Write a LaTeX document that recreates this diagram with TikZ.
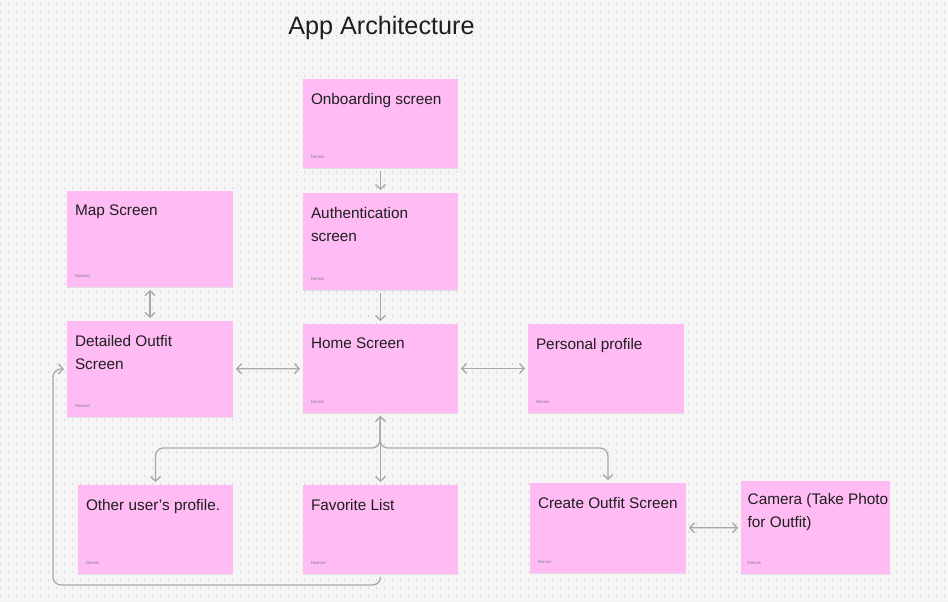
\documentclass[tikz,border=0pt]{standalone}
\usepackage{fontspec}
\setmainfont{Liberation Sans}
\usetikzlibrary{arrows.meta,positioning,fit,shadows}
\definecolor{notepink}{HTML}{FFBBF3}
\definecolor{linkgray}{HTML}{A9A9A9}
\definecolor{canvas}{HTML}{F5F5F5}
\definecolor{dotgray}{HTML}{D6D6D6}
\definecolor{inkdark}{HTML}{1E1E1E}
\tikzstyle{note} = [fill=notepink, rectangle, inner sep=0pt,
drop shadow={shadow xshift=0pt, shadow yshift=-1pt, opacity=0.18}]
\tikzstyle{heading} = [anchor=north west, inner sep=0pt, align=left, text=inkdark,
font=\fontsize{11.5}{17.25}\selectfont]
\tikzstyle{author} = [anchor=base west, inner sep=0pt, text=gray,
font=\fontsize{3.2}{4}\selectfont]
\tikzstyle{link} = [draw=linkgray, line width=1pt, rounded corners=6pt,
shorten >=2pt, shorten <=2pt]

\begin{document}
\begin{tikzpicture}[x=0.75pt, y=-0.75pt, >={Straight Barb[length=3.5pt, width=7.5pt]}]
	% canvas and dot grid
	\fill[canvas] (0,0) rectangle (948,602);
	\useasboundingbox (0,0) rectangle (948,602);
	\foreach \y in {4,12,...,600}
		\draw[dotgray, line width=1pt, dash pattern=on 1pt off 5pt] (0,\y) -- (948,\y);
	
	\node[anchor=base west, inner sep=0pt, text=inkdark, font=\fontsize{18.9}{22}\selectfont] (Title) at (288,35) {App Architecture};
	
	% sticky notes
	\node [note, fit={(303,79) (458,168)}] (Onboard) {};
	\node [note, fit={(303,193) (458,290)}] (Auth) {};
	\node [note, fit={(67,191) (233,287)}] (Map) {};
	\node [note, fit={(67,321) (233,417)}] (Detailed) {};
	\node [note, fit={(303,324) (458,413)}] (Home) {};
	\node [note, fit={(528,324) (684,413)}] (Profile) {};
	\node [note, fit={(78,485) (233,574)}] (Other) {};
	\node [note, fit={(303,485) (458,574)}] (Favorite) {};
	\node [note, fit={(530,483) (686,573)}] (Create) {};
	\node [note, fit={(741,481) (890,574)}] (Camera) {};
	
	% titles
	\node [heading] at ([xshift=6pt, yshift=-10.5pt]Onboard.north west) {Onboarding screen};
	\node [heading] at ([xshift=6pt, yshift=-10.5pt]Auth.north west) {Authentication\\screen};
	\node [heading] at ([xshift=6pt, yshift=-10.5pt]Map.north west) {Map Screen};
	\node [heading] at ([xshift=6pt, yshift=-10.5pt]Detailed.north west) {Detailed Outfit\\Screen};
	\node [heading] at ([xshift=6pt, yshift=-10.5pt]Home.north west) {Home Screen};
	\node [heading] at ([xshift=6pt, yshift=-10.5pt]Profile.north west) {Personal profile};
	\node [heading] at ([xshift=6pt, yshift=-10.5pt]Other.north west) {Other user’s profile.};
	\node [heading] at ([xshift=6pt, yshift=-10.5pt]Favorite.north west) {Favorite List};
	\node [heading] at ([xshift=6pt, yshift=-10.5pt]Create.north west) {Create Outfit Screen};
	\node [heading] at ([xshift=5pt, yshift=-9.5pt]Camera.north west) {Camera (Take Photo\\for Outfit)};
	
	% owners
	\node [author] at ([xshift=6pt, yshift=7.5pt]Onboard.south west) {Dennis};
	\node [author] at ([xshift=6pt, yshift=7.5pt]Auth.south west) {Dennis};
	\node [author] at ([xshift=6pt, yshift=7.5pt]Map.south west) {Howard};
	\node [author] at ([xshift=6pt, yshift=7.5pt]Detailed.south west) {Howard};
	\node [author] at ([xshift=6pt, yshift=7.5pt]Home.south west) {Dennis};
	\node [author] at ([xshift=6pt, yshift=7.5pt]Profile.south west) {Dennis};
	\node [author] at ([xshift=6pt, yshift=7.5pt]Other.south west) {Dennis};
	\node [author] at ([xshift=6pt, yshift=7.5pt]Favorite.south west) {Howard};
	\node [author] at ([xshift=6pt, yshift=7.5pt]Create.south west) {Dennis};
	\node [author] at ([xshift=5pt, yshift=7.5pt]Camera.south west) {Dennis};
	
	\coordinate (Fork) at (380,448);
	\coordinate (Loop) at (53,585);
	
	\draw [link, ->] (Onboard) -- (Auth);
	\draw [link, ->] (Auth) -- (Home);
	\draw [link, <->] (Map) -- (Detailed);
	\draw [link, <->] (Detailed) -- (Home);
	\draw [link, <->] (Home) -- (Profile);
	\draw [link, <->] (Home) -- (Favorite);
	\draw [link, ->] (Home) -- (Fork) -| (Other);
	\draw [link, ->] (Home) -- (Fork) -| (Create);
	\draw [link, <->] (Create) -- (Camera);
	\draw [link, ->] (Favorite) |- (Loop) |- (Detailed);
	
\end{tikzpicture}
\end{document}
